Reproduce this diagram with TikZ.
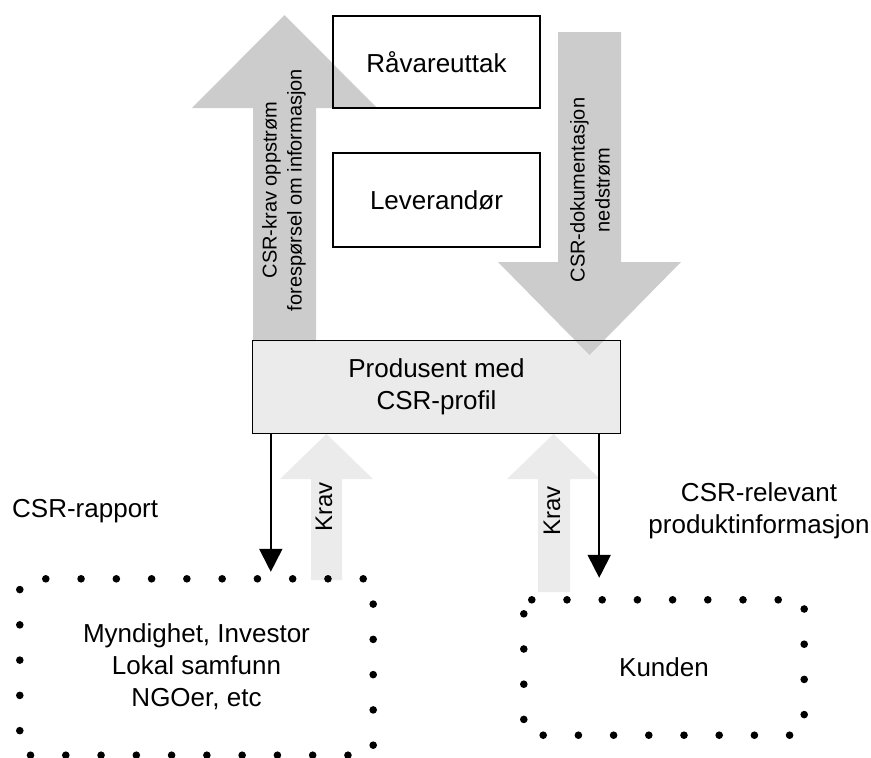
\documentclass[tikz,border=0pt]{standalone}
\usepackage{fontspec}
\setmainfont{Liberation Sans}
\usetikzlibrary{arrows.meta}
\definecolor{biggray}{RGB}{204,204,204}
\definecolor{lightg}{RGB}{235,235,235}
\begin{document}
\begin{tikzpicture}[x=1pt,y=-1pt,
  txt/.style={inner sep=0pt, align=center, font=\fontsize{26}{32}\selectfont},
  whitebox/.style={txt, minimum width=207pt},
  border/.style={draw=black, line width=1.3pt},
  rottxt/.style={inner sep=0pt, align=center, rotate=90, font=\fontsize{20}{25}\selectfont},
  kravtxt/.style={inner sep=0pt, rotate=90, font=\fontsize{24}{28}\selectfont},
  blk/.style={line width=2pt, -{Triangle[length=23pt,width=23pt]}},
  dotsL/.style={line width=7.6pt, line cap=round, dash pattern=on 0pt off 35.27pt, dash phase=9.27pt},
  dotsR/.style={line width=7.6pt, line cap=round, dash pattern=on 0pt off 35.2pt, dash phase=27.2pt}
]
\useasboundingbox (0,0) rectangle (871,758);

% producer box fill
\node[txt, fill=lightg, minimum width=367pt, minimum height=92pt] (prod) at (436.5,387) {Produsent med\\CSR-profil};

% big grey arrows
\fill[biggray] (253,341) -- (253,108) -- (192,108) -- (284.5,15) -- (377,108) -- (316,108) -- (316,341) -- cycle;
\fill[biggray] (558,32) -- (621,32) -- (621,262) -- (681,262) -- (589.5,355) -- (498,262) -- (558,262) -- cycle;
\node[rottxt] (opp) at (284,190) {CSR-krav oppstrøm\\forespørsel om informasjon};
\node[rottxt] (ned) at (590,190) {CSR-dokumentasjon\\nedstrøm};

% top boxes
\node[whitebox, border, minimum height=92pt] (raa) at (436.5,62) {Råvareuttak};
\node[whitebox, border, minimum height=94pt] (lev) at (436.5,200) {Leverandør};

% producer border
\draw[border] (prod.north west) rectangle (prod.south east);

% Krav arrows
\fill[lightg] (311,580) -- (311,479) -- (280,479) -- (326.5,434) -- (373,479) -- (342,479) -- (342,580) -- cycle;
\fill[lightg] (538,592) -- (538,479) -- (507,479) -- (553.5,434) -- (600,479) -- (570,479) -- (570,592) -- cycle;
\node[kravtxt] (krav1) at (324,507) {Krav};
\node[kravtxt] (krav2) at (552,511) {Krav};

% receiver boxes
\node[txt, minimum width=353pt, minimum height=176pt] (mynd) at (196.5,667) {Myndighet, Investor\\Lokal samfunn\\NGOer, etc};
\node[txt, minimum width=280pt, minimum height=135pt] (kund) at (664,667.5) {Kunden};
\draw[dotsL] (mynd.north west) -- (mynd.north east) -- (mynd.south east) -- (mynd.south west) -- cycle;
\draw[dotsR] (kund.north west) -- (kund.north east) -- (kund.south east) -- (kund.south west) -- cycle;

% black arrows
\draw[blk, shorten >=7pt] ([xshift=18pt]prod.south west) -- ([xshift=18pt]prod.south west |- mynd.north);
\draw[blk, shorten >=22pt] ([xshift=-21pt]prod.south east) -- ([xshift=-21pt]prod.south east |- kund.north);

% labels
\node[txt, anchor=base west] (rapport) at (12,517) {CSR-rapport};
\node[txt] (relev) at (759,511) {CSR-relevant\\produktinformasjon};
\end{tikzpicture}
\end{document}
